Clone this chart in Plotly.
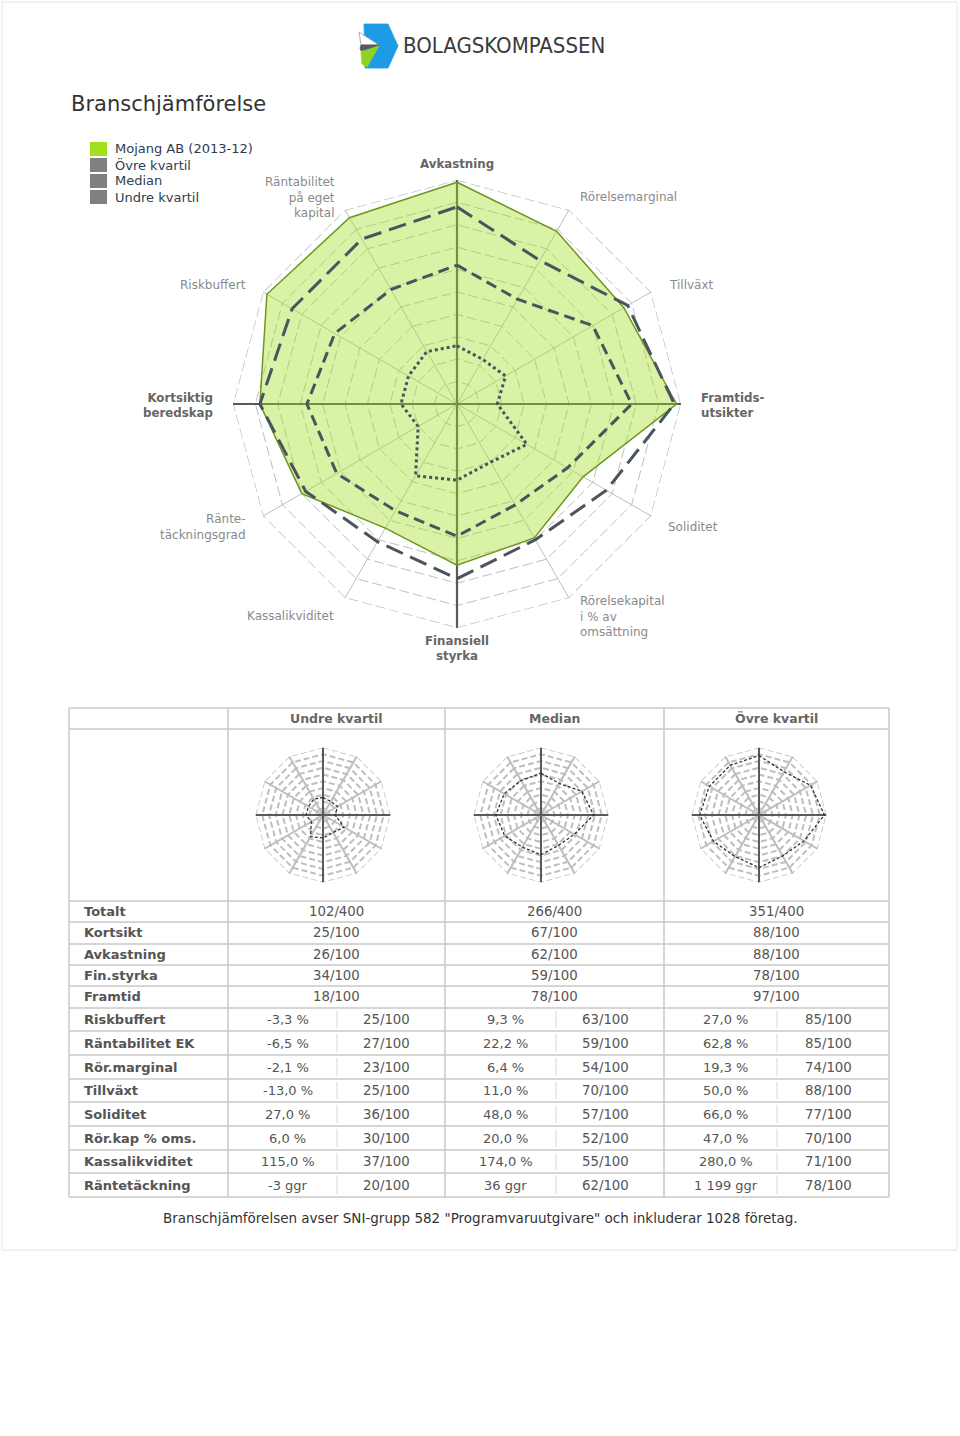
import plotly.graph_objects as go

W, H = 960, 1436


def fx(p):
    return p / W


def fy(p):
    return 1 - p / H


# ---------------- data ----------------
axis_names = ["Avkastning", "Rörelsemarginal", "Tillväxt", "Framtidsutsikter",
              "Soliditet", "Rörelsekapital i % av omsättning", "Finansiell styrka",
              "Kassalikviditet", "Räntetäckningsgrad", "Kortsiktig beredskap",
              "Riskbuffert", "Räntabilitet på eget kapital"]
axis_display = ["Avkastning", "Rörelsemarginal", "Tillväxt", "Framtids-<br>utsikter",
                "Soliditet", "Rörelsekapital<br>i % av<br>omsättning", "Finansiell<br>styrka",
                "Kassalikviditet", "Ränte-<br>täckningsgrad", "Kortsiktig<br>beredskap",
                "Riskbuffert", "Räntabilitet<br>på eget<br>kapital"]
main_axis_flags = [True, False, False, True, False, False, True, False, False, True, False, False]

mojang = [99, 89, 86, 98, 65, 69, 72, 64, 80, 88, 98, 96]
ovre_radar = [88, 74, 88, 97, 77, 70, 78, 71, 78, 88, 85, 85]
median_radar = [62, 54, 70, 78, 57, 52, 59, 55, 62, 67, 63, 59]
undre_radar = [26, 23, 25, 18, 36, 30, 34, 37, 20, 25, 25, 27]
scale_max = [100] * 12

legend_labels = ["Mojang AB (2013-12)", "Övre kvartil", "Median", "Undre kvartil"]
legend_colors = ["#a3df1f", "#808080", "#808080", "#808080"]

col_headers = ["Undre kvartil", "Median", "Övre kvartil"]
row_labels = ["Totalt", "Kortsikt", "Avkastning", "Fin.styrka", "Framtid",
              "Riskbuffert", "Räntabilitet EK", "Rör.marginal", "Tillväxt",
              "Soliditet", "Rör.kap % oms.", "Kassalikviditet", "Räntetäckning"]
summary_undre = ["102/400", "25/100", "26/100", "34/100", "18/100"]
summary_median = ["266/400", "67/100", "62/100", "59/100", "78/100"]
summary_ovre = ["351/400", "88/100", "88/100", "78/100", "97/100"]
values_undre = ["-3,3 %", "-6,5 %", "-2,1 %", "-13,0 %", "27,0 %", "6,0 %", "115,0 %", "-3 ggr"]
values_median = ["9,3 %", "22,2 %", "6,4 %", "11,0 %", "48,0 %", "20,0 %", "174,0 %", "36 ggr"]
values_ovre = ["27,0 %", "62,8 %", "19,3 %", "50,0 %", "66,0 %", "47,0 %", "280,0 %", "1 199 ggr"]
scores_undre = ["25/100", "27/100", "23/100", "25/100", "36/100", "30/100", "37/100", "20/100"]
scores_median = ["63/100", "59/100", "54/100", "70/100", "57/100", "52/100", "55/100", "62/100"]
scores_ovre = ["85/100", "85/100", "74/100", "88/100", "77/100", "70/100", "71/100", "78/100"]

caption = 'Branschjämförelsen avser SNI-grupp 582 "Programvaruutgivare" och inkluderar 1028 företag.'

FONT = "DejaVu Sans"
GRID = "#bebebe"

# ---------------- figure ----------------
fig = go.Figure()


def closed(lst):
    return list(lst) + [lst[0]]


def add_frame(sub, width, dash, gw):
    # outer dashed ring
    fig.add_trace(go.Scatterpolar(
        r=closed(scale_max), theta=closed(axis_names), mode="lines",
        line=dict(color=GRID, width=gw, dash=dash),
        subplot=sub, hoverinfo="skip", showlegend=False))
    for a, b in [(0, 6), (9, 3)]:
        fig.add_trace(go.Scatterpolar(
            r=[100, 0, 100], theta=[axis_names[a], axis_names[a], axis_names[b]],
            mode="lines", line=dict(color="#555a5e", width=width),
            subplot=sub, hoverinfo="skip", showlegend=False))


# main radar
add_frame("polar", 2.2, "10px,4px", 1.4)
fig.add_trace(go.Scatterpolar(
    r=closed(mojang), theta=closed(axis_names), mode="lines", fill="toself",
    fillcolor="rgba(163,223,31,0.40)", line=dict(color="#6f9620", width=1.5),
    subplot="polar", hoverinfo="skip", showlegend=False))
for vals, dash in [(ovre_radar, "18px,8px"), (median_radar, "11px,6px"), (undre_radar, "3px,3px")]:
    fig.add_trace(go.Scatterpolar(
        r=closed(vals), theta=closed(axis_names), mode="lines",
        line=dict(color="#4a545d", width=3, dash=dash),
        subplot="polar", hoverinfo="skip", showlegend=False))

# small radars
for sub, vals in [("polar2", undre_radar), ("polar3", median_radar), ("polar4", ovre_radar)]:
    add_frame(sub, 2, "6px,3px", 1.5)
    fig.add_trace(go.Scatterpolar(
        r=closed(vals), theta=closed(axis_names), mode="lines",
        line=dict(color="#333333", width=1.3, dash="3px,2px"),
        subplot=sub, hoverinfo="skip", showlegend=False))


def polar_layout(cx, cy, rad, dash, gw):
    return dict(
        domain=dict(x=[fx(cx - rad), fx(cx + rad)], y=[fy(cy + rad), fy(cy - rad)]),
        bgcolor="rgba(0,0,0,0)", gridshape="linear", hole=0,
        radialaxis=dict(range=[0, 100], tick0=0, dtick=10, showticklabels=False, ticks="",
                        showline=False, gridcolor=GRID, griddash=dash, gridwidth=gw,
                        layer="below traces"),
        angularaxis=dict(type="category", categoryarray=axis_names, rotation=90,
                         direction="clockwise", showticklabels=False, ticks="",
                         showline=False, gridcolor=GRID, gridwidth=gw,
                         layer="below traces"),
    )


shapes = []
annotations = []

# page border
shapes.append(dict(type="rect", xref="paper", yref="paper", x0=fx(2), x1=fx(957), y0=fy(1250), y1=fy(2),
                   line=dict(color="#e4e4e4", width=1)))

# logo
logo_polys = [
    ("M {} {} L {} {} L {} {} L {} {} L {} {} Z", [(364, 24), (388, 24), (398, 46), (388, 68), (365, 68)], "#1e9be6"),
    ("M {} {} L {} {} L {} {} Z", [(359, 32), (379, 45), (361, 45)], "#ffffff"),
    ("M {} {} L {} {} L {} {} L {} {} Z", [(361, 45), (379, 45), (361, 51), (360, 48)], "#5a5a5a"),
    ("M {} {} L {} {} L {} {} L {} {} Z", [(361, 52), (379, 46), (367, 67), (362, 64)], "#8fd21e"),
]
for tmpl, pts, col in logo_polys:
    coords = []
    for (px_, py_) in pts:
        coords += [fx(px_), fy(py_)]
    shapes.append(dict(type="path", xref="paper", yref="paper", path=tmpl.format(*coords),
                       fillcolor=col, line=dict(color="#9a9a9a" if col == "#ffffff" else col, width=0.8)))
annotations.append(dict(text="BOLAGSKOMPASSEN", x=fx(401), y=fy(46), xanchor="left", yanchor="middle",
                        showarrow=False, font=dict(family="Liberation Sans Narrow, DejaVu Sans Condensed, Roboto Condensed, sans-serif",
                                                   size=22, color="#3a3a3a")))

# title
annotations.append(dict(text="Branschjämförelse", x=fx(69), y=fy(104), xanchor="left", yanchor="middle",
                        showarrow=False, font=dict(family=FONT, size=21, color="#333333")))

# legend
for i, (lab, col) in enumerate(zip(legend_labels, legend_colors)):
    yc = 149 + 16 * i
    shapes.append(dict(type="rect", xref="paper", yref="paper", x0=fx(90), x1=fx(107), y0=fy(yc + 7), y1=fy(yc - 7),
                       fillcolor=col, line=dict(color=col, width=0)))
    annotations.append(dict(text=lab, x=fx(113), y=fy(yc), xanchor="left", yanchor="middle", showarrow=False,
                            font=dict(family=FONT, size=13, color="#2c3e50")))

# main radar labels
label_pos = [(457, 164, "center"), (578, 197, "left"), (667, 285, "left"), (699, 406, "left"),
             (666, 527, "left"), (578, 616, "left"), (457, 648, "center"), (336, 616, "right"),
             (248, 527, "right"), (215, 406, "right"), (248, 285, "right"), (337, 197, "right")]
for txt, (lx, ly, anc), bold in zip(axis_display, label_pos, main_axis_flags):
    annotations.append(dict(text=("<b>%s</b>" % txt) if bold else txt, x=fx(lx), y=fy(ly),
                            xanchor=anc, yanchor="middle", align=anc, showarrow=False,
                            font=dict(family=FONT, size=11.8 if bold else 12,
                                      color="#666666" if bold else "#8a8a8a")))

# table grid
LINE = "#c9c9c9"
tx0, tx1 = 69, 889
h_lines = [708, 729, 901, 922, 944, 965, 986, 1008, 1031, 1055, 1079, 1102, 1126, 1150, 1173, 1197]
for yy in h_lines:
    shapes.append(dict(type="line", xref="paper", yref="paper", x0=fx(tx0), x1=fx(tx1), y0=fy(yy), y1=fy(yy),
                       line=dict(color=LINE, width=1.5)))
for xx in [69, 228, 445, 664, 889]:
    shapes.append(dict(type="line", xref="paper", yref="paper", x0=fx(xx), x1=fx(xx), y0=fy(708), y1=fy(1197),
                       line=dict(color=LINE, width=1.5)))
row_edges = h_lines[2:]
for i in range(5, 13):
    for xx in [337, 556, 777]:
        shapes.append(dict(type="line", xref="paper", yref="paper", x0=fx(xx), x1=fx(xx),
                           y0=fy(row_edges[i] + 3), y1=fy(row_edges[i + 1] - 3),
                           line=dict(color="#d6d6d6", width=1)))

col_centers = [336, 554, 776]
col_bounds = [(228, 337, 445), (445, 556, 664), (664, 777, 889)]
for txt, cx in zip(col_headers, col_centers):
    annotations.append(dict(text="<b>%s</b>" % txt, x=fx(cx), y=fy(718), xanchor="center", yanchor="middle",
                            showarrow=False, font=dict(family=FONT, size=12.5, color="#666666")))

row_centers = [(row_edges[i] + row_edges[i + 1]) / 2 for i in range(13)]
for lab, yc in zip(row_labels, row_centers):
    annotations.append(dict(text="<b>%s</b>" % lab, x=fx(82), y=fy(yc), xanchor="left", yanchor="middle",
                            showarrow=False, font=dict(family=FONT, size=13, color="#555555")))

summaries = [summary_undre, summary_median, summary_ovre]
values = [values_undre, values_median, values_ovre]
scores = [scores_undre, scores_median, scores_ovre]
for c in range(3):
    a, m, b = col_bounds[c]
    for i in range(5):
        annotations.append(dict(text=summaries[c][i], x=fx(col_centers[c]), y=fy(row_centers[i]),
                                xanchor="center", yanchor="middle", showarrow=False,
                                font=dict(family=FONT, size=13.3, color="#555555")))
    for j in range(8):
        yc = row_centers[5 + j]
        annotations.append(dict(text=values[c][j], x=fx((a + m) / 2 + 5), y=fy(yc),
                                xanchor="center", yanchor="middle", showarrow=False,
                                font=dict(family=FONT, size=13, color="#555555")))
        annotations.append(dict(text=scores[c][j], x=fx((m + b) / 2 - 5), y=fy(yc),
                                xanchor="center", yanchor="middle", showarrow=False,
                                font=dict(family=FONT, size=13.3, color="#555555")))

annotations.append(dict(text=caption, x=fx(480), y=fy(1218), xanchor="center", yanchor="middle",
                        showarrow=False, font=dict(family=FONT, size=13.5, color="#333333")))

fig.update_layout(
    width=W, height=H, autosize=False,
    margin=dict(l=0, r=0, t=0, b=0),
    paper_bgcolor="white", plot_bgcolor="white",
    showlegend=False,
    polar=polar_layout(457, 404, 224, "10px,4px", 1.4),
    polar2=polar_layout(323, 815, 67.5, "6px,3px", 1.5),
    polar3=polar_layout(541, 815, 67.5, "6px,3px", 1.5),
    polar4=polar_layout(759, 815, 67.5, "6px,3px", 1.5),
    shapes=shapes, annotations=annotations,
)

fig.write_html("out.html")
